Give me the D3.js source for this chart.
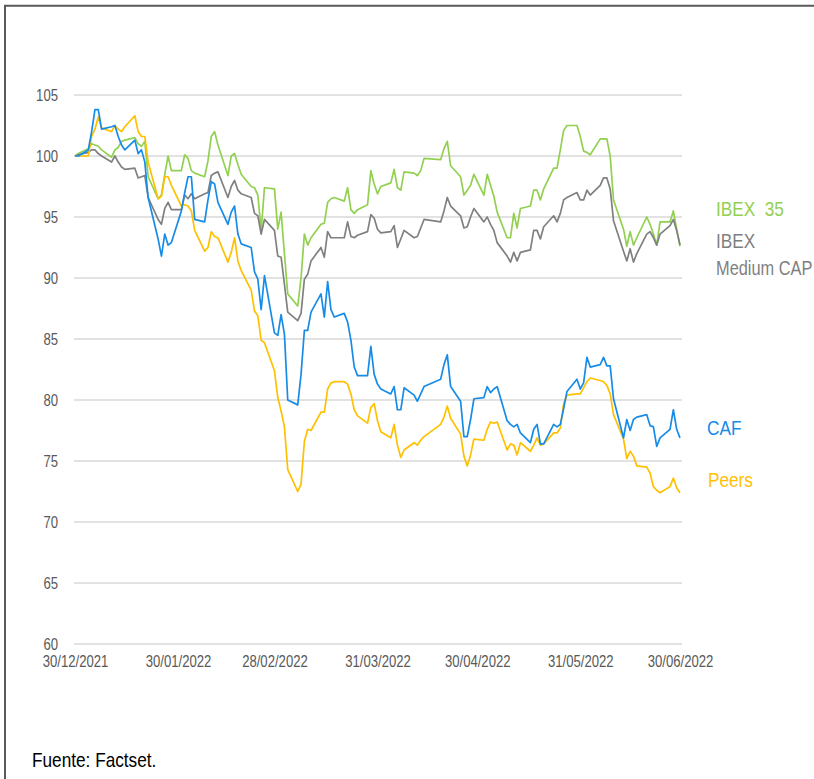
<!DOCTYPE html>
<html>
<head>
<meta charset="utf-8">
<script src="https://cdn.jsdelivr.net/npm/d3@7"></script>
<style>
  html, body { margin: 0; padding: 0; background: #fff; }
  svg { display: block; font-family: 'Liberation Sans', Arial, sans-serif; }
</style>
</head>
<body>
<svg id="chart" width="814" height="779"></svg>
<script>
// trading calendar (weekdays, Madrid exchange closed on Easter)
const firstDay = '2021-12-30';
const lastDay = '2022-06-30';
const holidays = ['2022-04-15', '2022-04-18'];

const xTickLabels = ['30/12/2021', '30/01/2022', '28/02/2022', '31/03/2022', '30/04/2022', '31/05/2022', '30/06/2022'];
const yTicks = [60, 65, 70, 75, 80, 85, 90, 95, 100, 105];

// base 100, one value per trading day
const ibex35 = [
  100, 100.2,
  100.6, 101.0, 100.9, 100.8, 100.5, 99.9, 100.5, 100.7, 101.2, 101.3, 101.5, 101.0, 100.8, 101.2, 98.3, 96.5, 96.8, 98.5, 100.0, 98.8, 98.8,
  100.1, 99.8, 98.8, 98.6, 98.3, 99.6, 101.6, 102.0, 100.9, 98.4, 100.0, 100.2, 99.3, 98.5, 97.5, 97.4, 96.8, 93.9, 97.4, 97.3,
  94.0, 95.4, 92.0, 88.7, 87.7, 90.0, 93.6, 92.7, 93.3, 94.4, 94.5, 96.2, 96.5, 96.6, 96.3, 97.4, 95.6, 95.3, 95.6, 96.0, 98.8, 97.7, 96.9,
  97.5, 97.8, 98.9, 97.4, 97.2, 98.7, 98.6, 98.4, 98.8, 99.8, 99.7, 100.6, 101.2, 99.2, 98.3, 96.8, 97.2, 97.6, 98.5,
  96.8, 98.5, 97.6, 96.7, 95.4, 93.3, 93.3, 95.3, 94.1, 95.7, 95.9, 97.2, 97.2, 96.4, 97.3, 99.0, 99.0, 100.5, 102.1, 102.5, 102.5, 101.6,
  100.4, 100.3, 100.1, 101.4, 101.4, 101.4, 100.0, 96.4, 94.0, 92.6, 93.8, 92.7, 93.3, 95.0, 94.4, 93.6, 92.7, 94.6, 94.6, 95.5, 94.0, 92.6
];

const ibexMedium = [
  100, 100.1,
  100.3, 100.5, 100.5, 100.2, 100.0, 99.5, 100.0, 99.5, 99.1, 98.9, 99.0, 98.2, 98.3, 98.4, 96.6, 94.8, 94.4, 95.7, 96.2, 95.6, 95.6,
  96.8, 96.5, 96.9, 96.5, 96.9, 97.0, 98.4, 98.6, 98.7, 96.6, 97.5, 98.0, 97.2, 96.9, 96.6, 95.3, 95.1, 93.6, 94.8, 93.9,
  91.8, 91.7, 89.5, 87.2, 86.5, 87.1, 89.9, 90.3, 91.4, 92.5, 91.7, 93.8, 93.3, 93.3, 93.3, 94.6, 93.4, 93.3, 93.5, 93.8, 95.2, 94.9, 94.0,
  93.7, 93.8, 94.3, 92.5, 93.2, 93.9, 93.3, 93.4, 94.1, 94.8, 94.6, 95.5, 96.6, 95.9, 95.1, 94.1, 94.2, 95.0, 95.7,
  94.6, 95.0, 94.4, 93.9, 92.9, 91.8, 91.3, 92.1, 91.4, 92.1, 92.3, 93.9, 93.9, 93.2, 94.2, 95.1, 94.6, 95.3, 96.4, 96.6, 97.0, 96.4,
  96.4, 97.2, 96.8, 97.6, 98.2, 98.2, 97.3, 94.7, 92.2, 91.4, 92.4, 91.3, 92.0, 93.6, 93.8, 93.3, 92.7, 93.6, 94.3, 94.8, 93.9, 92.7
];

const caf = [
  100, 100,
  100.5, 102.0, 103.8, 103.8, 102.2, 102.4, 102.5, 101.6, 100.9, 100.5, 101.3, 100.2, 100.5, 99.5, 96.6, 93.2, 91.8, 93.6, 92.7, 92.9, 95.5,
  97.0, 98.3, 98.3, 94.8, 94.6, 96.4, 97.9, 97.7, 96.2, 94.4, 95.4, 95.9, 93.6, 92.8, 92.5, 90.5, 89.9, 87.4, 90.2, 85.5,
  85.3, 87.0, 85.4, 80.0, 79.6, 82.1, 85.7, 85.7, 87.2, 88.7, 86.8, 89.7, 87.4, 86.8, 87.1, 86.4, 84.9, 82.7, 82.0, 82.0, 84.4, 82.1, 81.3,
  80.9, 80.5, 81.1, 79.2, 79.2, 81.0, 80.4, 79.9, 80.5, 81.1, 81.7, 82.9, 83.7, 81.1, 79.9, 77.0, 77.0, 78.4, 80.1,
  80.2, 81.1, 80.6, 80.9, 81.1, 78.3, 78.0, 77.8, 78.0, 77.3, 76.5, 77.6, 78.0, 76.4, 76.4, 78.0, 77.8, 78.0, 79.3, 80.7, 81.7, 80.9,
  81.4, 83.5, 82.7, 82.9, 83.5, 82.8, 82.8, 80.1, 76.9, 78.4, 77.5, 78.4, 78.6, 78.8, 77.9, 77.8, 76.2, 76.9, 77.6, 79.2, 77.6, 76.9
];

const peers = [
  100, 100,
  100.0, 101.6, 102.2, 103.2, 102.3, 102.0, 102.5, 102.2, 102.0, 102.4, 103.3, 102.0, 101.6, 101.6, 99.5, 96.5, 96.7, 98.3, 98.3, 97.6, 95.9,
  96.0, 95.9, 95.5, 93.9, 92.2, 92.5, 93.8, 93.4, 93.3, 91.3, 92.1, 93.3, 91.4, 90.6, 89.0, 87.3, 86.9, 84.9, 84.7, 82.4,
  80.2, 79.1, 77.8, 74.3, 72.5, 73.1, 76.6, 77.6, 77.5, 79.0, 79.0, 80.9, 81.4, 81.5, 81.5, 81.3, 80.5, 79.2, 78.7, 78.1, 79.4, 79.7, 78.3,
  77.4, 76.9, 78.0, 76.3, 75.3, 75.9, 76.5, 76.3, 76.7, 77.0, 78.0, 78.6, 79.5, 78.5, 77.2, 75.4, 74.6, 75.5, 76.8,
  76.7, 77.6, 78.2, 78.1, 78.2, 75.9, 76.4, 76.3, 75.5, 76.5, 75.8, 76.3, 76.9, 76.3, 76.4, 77.3, 77.3, 77.7, 79.7, 80.4, 80.5, 80.5,
  81.0, 81.5, 81.8, 81.6, 81.5, 81.2, 80.5, 78.8, 76.8, 75.2, 75.8, 75.4, 74.6, 74.5, 74.0, 72.9, 72.6, 72.4, 72.9, 73.6, 72.8, 72.4
];

const parseIso = d3.timeParse('%Y-%m-%d');
const formatIso = d3.timeFormat('%Y-%m-%d');
const parseLabel = d3.timeParse('%d/%m/%Y');

const tradingDays = d3.timeDay
  .range(parseIso(firstDay), d3.timeDay.offset(parseIso(lastDay), 1))
  .filter((d) => d.getDay() !== 0 && d.getDay() !== 6 && !holidays.includes(formatIso(d)));

const series = [
  { name: 'IBEX 35', values: ibex35, color: '#92d050' },
  { name: 'IBEX Medium CAP', values: ibexMedium, color: '#808080' },
  { name: 'Peers', values: peers, color: '#ffc000' },
  { name: 'CAF', values: caf, color: '#168ce8' },
];

const svg = d3.select('#chart');
const narrow = 0.82; // the source is a horizontally squeezed capture

const x = d3.scaleTime().domain([parseIso(firstDay), parseIso(lastDay)]).range([75, 680]);
const y = d3.scaleLinear().domain([60, 105]).range([644, 95]);

// frame
svg.append('path')
  .attr('d', 'M5,779V5.7H814')
  .attr('fill', 'none')
  .attr('stroke', '#5a5a5a')
  .attr('stroke-width', 2);

// gridlines
svg.append('g')
  .selectAll('line')
  .data(yTicks)
  .join('line')
  .attr('x1', 74)
  .attr('x2', 682)
  .attr('y1', (d) => y(d))
  .attr('y2', (d) => y(d))
  .attr('stroke', '#d9d9d9')
  .attr('stroke-width', 1.6);

// y axis
const yAxis = svg.append('g')
  .attr('transform', 'translate(75,0)')
  .call(d3.axisLeft(y).tickValues(yTicks).tickSize(0).tickPadding(17));
yAxis.select('.domain').remove();
yAxis.selectAll('text')
  .attr('x', -17 / narrow)
  .attr('transform', `scale(${narrow},1)`)
  .attr('fill', '#595959')
  .attr('font-size', 16)
  .attr('font-family', "'Liberation Sans', Arial, sans-serif");

// x axis
const xAxis = svg.append('g')
  .attr('transform', 'translate(0,644)')
  .call(
    d3.axisBottom(x)
      .tickValues(xTickLabels.map(parseLabel))
      .tickFormat(d3.timeFormat('%d/%m/%Y'))
      .tickSize(0)
      .tickPadding(12)
  );
xAxis.select('.domain').remove();
xAxis.selectAll('text')
  .attr('transform', `scale(${narrow},1)`)
  .attr('fill', '#595959')
  .attr('font-size', 16)
  .attr('font-family', "'Liberation Sans', Arial, sans-serif");

// lines
const line = d3.line()
  .x((d, i) => x(tradingDays[i]))
  .y((d) => y(d));

svg.append('g')
  .selectAll('path')
  .data(series)
  .join('path')
  .attr('d', (s) => line(s.values))
  .attr('fill', 'none')
  .attr('stroke', (s) => s.color)
  .attr('stroke-width', 1.7)
  .attr('stroke-linejoin', 'round');

// labels at the right
const labels = [
  { text: 'IBEX  35', x: 716, y: 216, color: '#92d050', squeeze: narrow },
  { text: 'IBEX', x: 716, y: 248, color: '#7f7f7f', squeeze: narrow },
  { text: 'Medium CAP', x: 716, y: 275, color: '#7f7f7f', squeeze: 0.78 },
  { text: 'CAF', x: 707, y: 435, color: '#168ce8', squeeze: narrow },
  { text: 'Peers', x: 708, y: 487, color: '#ffc000', squeeze: narrow },
];

svg.append('g')
  .selectAll('text')
  .data(labels)
  .join('text')
  .attr('transform', (d) => `translate(${d.x},${d.y}) scale(${d.squeeze},1)`)
  .attr('fill', (d) => d.color)
  .attr('font-size', 21)
  .style('white-space', 'pre')
  .text((d) => d.text);

// source
svg.append('text')
  .attr('transform', `translate(32,767) scale(${narrow},1)`)
  .attr('font-size', 21)
  .attr('fill', '#000')
  .text('Fuente: Factset.');
</script>
</body>
</html>
